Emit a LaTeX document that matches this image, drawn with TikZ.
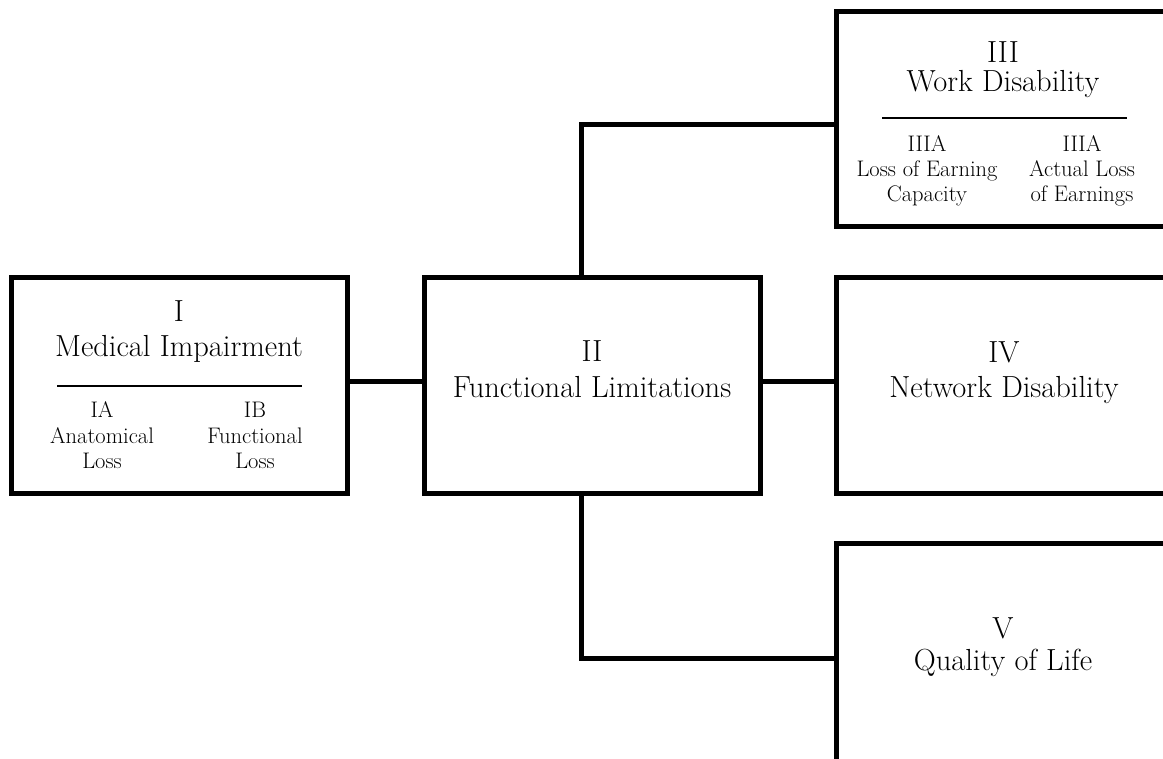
\documentclass[tikz,border=0pt]{standalone}
\begin{document}
\begin{tikzpicture}[x=1pt,y=-1pt,
  box/.style={draw,line width=5pt,rectangle,inner sep=0pt},
  conn/.style={line width=5pt},
  rulel/.style={line width=2.6pt},
  big/.style={font=\fontsize{30.5}{36}\selectfont,anchor=base,inner sep=0pt},
  sml/.style={font=\fontsize{22.5}{25}\selectfont,anchor=base,inner sep=0pt}]
\useasboundingbox (0,0) rectangle (1163,759);
\clip (0,0) rectangle (1163,759);
% boxes
\node[box,minimum width=336pt,minimum height=215pt] (I) at (179,385.5) {};
\node[box,minimum width=336pt,minimum height=215pt] (II) at (592,385.5) {};
\node[box,minimum width=334pt,minimum height=215pt] (III) at (1003,119.5) {};
\node[box,minimum width=334pt,minimum height=215pt] (IV) at (1003,385.5) {};
\node[box,minimum width=334pt,minimum height=230pt] (V) at (1003,658) {};
% connectors
\draw[conn] ([yshift=3.5pt]I.east) -- ([yshift=3.5pt]II.west);
\draw[conn] ([yshift=3.5pt]II.east) -- ([yshift=3.5pt]IV.west);
\draw[conn] ([xshift=-11pt]II.north) |- ([yshift=-5.5pt]III.west);
\draw[conn] ([xshift=-11pt]II.south) |- (V.west);
% box I
\node[big] (t1a) at (179,322) {I};
\node[big] (t1b) at (179,357) {Medical Impairment};
\draw[rulel] (57,386) -- (302,386);
\node[sml] (s1a) at (102,418) {IA};
\node[sml] (s1b) at (102,443) {Anatomical};
\node[sml] (s1c) at (102,468) {Loss};
\node[sml] (s2a) at (255,418) {IB};
\node[sml] (s2b) at (255,443) {Functional};
\node[sml] (s2c) at (255,468) {Loss};
% box II
\node[big] (t2a) at (592,362) {II};
\node[big] (t2b) at (592,398) {Functional Limitations};
% box III
\node[big] (t3a) at (1003,63) {III};
\node[big] (t3b) at (1003,92) {Work Disability};
\draw[rulel] (882,118) -- (1127,118);
\node[sml] (s3a) at (927,152) {IIIA};
\node[sml] (s3b) at (927,177) {Loss of Earning};
\node[sml] (s3c) at (927,202) {Capacity};
\node[sml] (s4a) at (1082,152) {IIIA};
\node[sml] (s4b) at (1082,177) {Actual Loss};
\node[sml] (s4c) at (1082,202) {of Earnings};
% box IV
\node[big] (t4a) at (1004,363) {IV};
\node[big] (t4b) at (1004,398) {Network Disability};
% box V
\node[big] (t5a) at (1003,638) {V};
\node[big] (t5b) at (1003,670) {Quality of Life};
\end{tikzpicture}
\end{document}
